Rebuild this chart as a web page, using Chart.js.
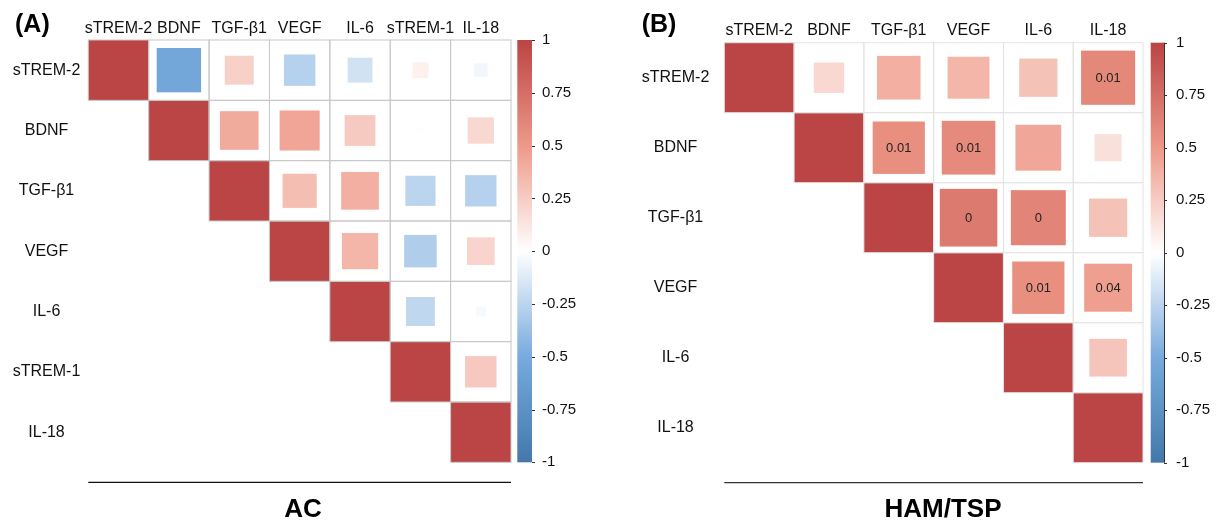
<!DOCTYPE html>
<html>
<head>
<meta charset="utf-8">
<script src="https://cdn.jsdelivr.net/npm/chart.js@4.4.1/dist/chart.umd.min.js"></script>
<style>
  body { margin: 0; background: #fff; }
  .panel { position: absolute; top: 0; }
</style>
</head>
<body>
<div class="panel" style="left:0"><canvas id="chartAC" width="606" height="522"></canvas></div>
<div class="panel" style="left:606px"><canvas id="chartHAM" width="614" height="522"></canvas></div>
<script>
// variables in plotted order
const acVars = ['sTREM-2', 'BDNF', 'TGF-β1', 'VEGF', 'IL-6', 'sTREM-1', 'IL-18'];
const hamVars = ['sTREM-2', 'BDNF', 'TGF-β1', 'VEGF', 'IL-6', 'IL-18'];

// upper triangle of the correlation matrix, each row starts at the diagonal
const acCorr = [
    [1, -0.54, 0.23, -0.27, -0.17, 0.07, -0.05],
    [1, 0.41, 0.44, 0.26, 0.01, 0.19],
    [1, 0.32, 0.39, -0.25, -0.27],
    [1, 0.36, -0.29, 0.21],
    [1, -0.23, -0.03],
    [1, 0.27],
    [1]
];
const hamCorr = [
    [1, 0.19, 0.39, 0.36, 0.30, 0.60],
    [1, 0.56, 0.59, 0.43, 0.15],
    [1, 0.68, 0.62, 0.30],
    [1, 0.56, 0.47],
    [1, 0.29],
    [1]
];
// p-values printed in the significant cells (same layout as hamCorr)
const hamP = [
    [null, null, null, null, null, '0.01'],
    [null, '0.01', '0.01', null, null],
    [null, '0', '0', null],
    [null, '0.01', '0.04'],
    [null, null],
    [null]
];

// colour bar ticks
const barTicks = [1, 0.75, 0.5, 0.25, 0, -0.25, -0.5, -0.75, -1];

const FONT = "'Liberation Sans', Arial, sans-serif";
// corrplot style ramp, from -1 to 1
const ramp = ['#4477AA', '#77AADD', '#FFFFFF', '#EE9988', '#BB4444'];

function hexToRgb(hex) {
    return [1, 3, 5].map(i => parseInt(hex.slice(i, i + 2), 16));
}

function corrColor(r) {
    const t = (r + 1) * 2;
    const i = Math.min(3, Math.floor(t));
    const f = t - i;
    const a = hexToRgb(ramp[i]);
    const b = hexToRgb(ramp[i + 1]);
    const c = a.map((v, k) => Math.round(v + (b[k] - v) * f));
    return `rgb(${c[0]},${c[1]},${c[2]})`;
}

function toPoints(vars, corr, pvals) {
    const pts = [];
    corr.forEach((row, i) => {
        row.forEach((v, k) => {
            pts.push({ x: vars[i + k], y: vars[i], v, p: pvals ? pvals[i][k] : null });
        });
    });
    return pts;
}

// draws the cells, grid, colour bar and panel texts
const corrPanel = {
    id: 'corrPanel',
    afterDatasetsDraw(chart, args, opts) {
        const { ctx, chartArea: area, scales } = chart;
        const xs = scales.x, ys = scales.y, bar = scales.bar;
        const cw = xs.width / xs.getLabels().length;
        const ch = ys.height / ys.getLabels().length;
        const meta = chart.getDatasetMeta(0);
        const data = chart.data.datasets[0].data;

        ctx.save();
        meta.data.forEach((pt, i) => {
            const s = Math.sqrt(Math.abs(data[i].v));
            ctx.fillStyle = corrColor(data[i].v);
            ctx.fillRect(pt.x - s * cw / 2, pt.y - s * ch / 2, s * cw, s * ch);
        });

        ctx.strokeStyle = opts.gridColor;
        ctx.lineWidth = 1;
        meta.data.forEach(pt => {
            ctx.strokeRect(pt.x - cw / 2, pt.y - ch / 2, cw, ch);
        });

        ctx.fillStyle = '#222';
        ctx.font = `13px ${FONT}`;
        ctx.textAlign = 'center';
        ctx.textBaseline = 'middle';
        meta.data.forEach((pt, i) => {
            if (data[i].p !== null) ctx.fillText(data[i].p, pt.x, pt.y + 1);
        });

        // colour bar
        const bx = area.right + opts.barOffset;
        const top = bar.getPixelForValue(1);
        const bottom = bar.getPixelForValue(-1);
        const grad = ctx.createLinearGradient(0, bottom, 0, top);
        ramp.forEach((c, i) => grad.addColorStop(i / (ramp.length - 1), c));
        ctx.fillStyle = grad;
        ctx.fillRect(bx, top, opts.barWidth, bottom - top);
        ctx.strokeStyle = '#333';
        ctx.lineWidth = 1;
        ctx.beginPath();
        barTicks.forEach(v => {
            const y = Math.round(bar.getPixelForValue(v)) + 0.5;
            ctx.moveTo(bx + opts.barWidth, y);
            ctx.lineTo(bx + opts.barWidth + 3, y);
        });
        if (opts.barEdge) {
            ctx.moveTo(bx + opts.barWidth + 0.5, top);
            ctx.lineTo(bx + opts.barWidth + 0.5, bottom);
        }
        ctx.stroke();

        // rule and group title under the matrix
        ctx.strokeStyle = opts.ruleColor;
        ctx.lineWidth = 1.3;
        ctx.beginPath();
        ctx.moveTo(area.left, area.bottom + 20);
        ctx.lineTo(area.right, area.bottom + 20);
        ctx.stroke();

        ctx.fillStyle = '#000';
        ctx.textBaseline = 'alphabetic';
        ctx.font = `bold 26px ${FONT}`;
        ctx.fillText(opts.title, opts.titleX, 517);

        ctx.textAlign = 'left';
        ctx.font = `bold 25px ${FONT}`;
        ctx.fillText(opts.letter, opts.letterX, 32);
        ctx.restore();
    }
};

function makeChart(id, vars, corr, pvals, cfg) {
    const labelFont = { family: FONT, size: 16 };
    return new Chart(document.getElementById(id), {
        type: 'scatter',
        data: {
            datasets: [{ data: toPoints(vars, corr, pvals), pointRadius: 0, pointHoverRadius: 0 }]
        },
        options: {
            responsive: false,
            animation: false,
            devicePixelRatio: 1,
            events: [],
            layout: { padding: { top: 0, left: 0, right: 0, bottom: cfg.bottomPad } },
            plugins: {
                legend: { display: false },
                tooltip: { enabled: false },
                corrPanel: cfg.panel
            },
            scales: {
                x: {
                    type: 'category', labels: vars, position: 'top', offset: true,
                    grid: { display: false, drawTicks: false }, border: { display: false },
                    ticks: { autoSkip: false, maxRotation: 0, minRotation: 0, padding: cfg.xPad, color: '#111', font: labelFont },
                    afterFit: s => { s.height = cfg.top; }
                },
                y: {
                    type: 'category', labels: vars, position: 'left', offset: true,
                    grid: { display: false, drawTicks: false }, border: { display: false },
                    ticks: { autoSkip: false, crossAlign: 'center', padding: cfg.yPad, color: '#111', font: labelFont },
                    afterFit: s => { s.width = cfg.left; }
                },
                bar: {
                    type: 'linear', position: 'right', min: -1, max: 1,
                    grid: { display: false, drawTicks: false }, border: { display: false },
                    afterBuildTicks: s => { s.ticks = barTicks.map(v => ({ value: v })); },
                    ticks: { padding: cfg.barPad, color: '#111', font: { family: FONT, size: 15 }, callback: v => String(v) },
                    afterFit: s => { s.width = cfg.right; }
                }
            }
        },
        plugins: [corrPanel]
    });
}

makeChart('chartAC', acVars, acCorr, null, {
    top: 40, left: 88.3, right: 95, bottomPad: 59.7,
    xPad: 2, yPad: 8, barPad: 31,
    panel: {
        gridColor: '#c8c8c8', ruleColor: '#111', barOffset: 6.3, barWidth: 14.7, barEdge: false,
        title: 'AC', titleX: 303, letter: '(A)', letterX: 15
    }
});

makeChart('chartHAM', hamVars, hamCorr, hamP, {
    top: 42.7, left: 118.3, right: 77, bottomPad: 59.3,
    xPad: 3, yPad: 15, barPad: 33,
    panel: {
        gridColor: '#e4e4e4', ruleColor: '#333', barOffset: 7.7, barWidth: 13.3, barEdge: true,
        title: 'HAM/TSP', titleX: 337, letter: '(B)', letterX: 35.7
    }
});
</script>
</body>
</html>
